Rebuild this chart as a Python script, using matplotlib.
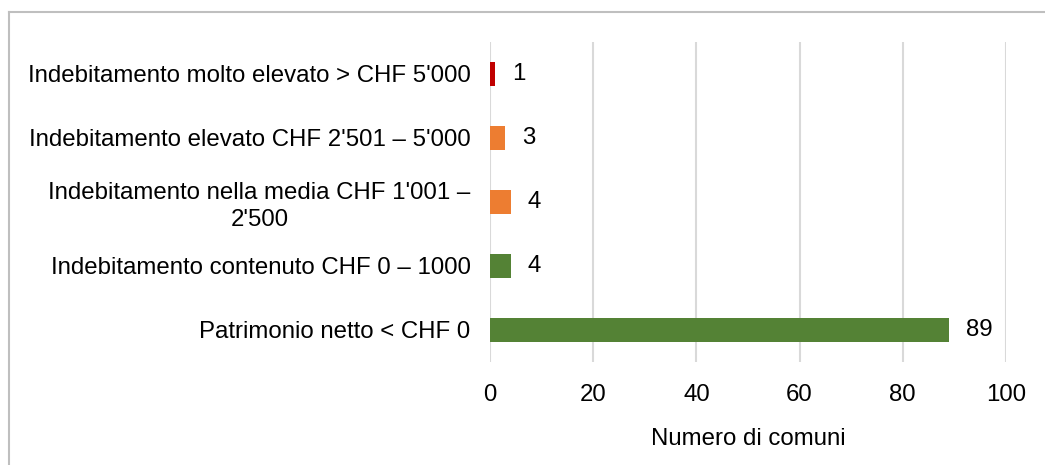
import matplotlib
matplotlib.use('Agg')
import matplotlib.pyplot as plt
from matplotlib.lines import Line2D

categories = [
    "Patrimonio netto < CHF 0",
    "Indebitamento contenuto CHF 0 \u2013 1000",
    "Indebitamento nella media CHF 1'001 \u2013\n2'500",
    "Indebitamento elevato CHF 2'501 \u2013 5'000",
    "Indebitamento molto elevato > CHF 5'000",
]
values = [89, 4, 4, 3, 1]
colors = ['#548235', '#548235', '#ED7D31', '#ED7D31', '#C00000']
xticks = [0, 20, 40, 60, 80, 100]

plt.rcParams['font.family'] = ['Liberation Sans', 'DejaVu Sans']
plt.rcParams['font.size'] = 17.3

fig = plt.figure(figsize=(10.45, 4.65), dpi=100)
ax = fig.add_axes([490 / 1045, 1 - 362 / 465, 516 / 1045, 320 / 465])

y = range(len(categories))
bars = ax.barh(y, values, height=0.36, color=colors, zorder=3)

for bar, val in zip(bars, values):
    ax.annotate(str(val), (bar.get_width(), bar.get_y() + bar.get_height() / 2),
                xytext=(17, 0), textcoords='offset pixels',
                ha='left', va='center', color='#000000')

ax.set_xlim(0, 100)
ax.set_ylim(-0.5, len(categories) - 0.5)
ax.set_xticks(xticks)
ax.set_yticks(list(y))
ax.set_yticklabels(categories, multialignment='center', linespacing=1.25)
ax.tick_params(axis='both', length=0)
ax.tick_params(axis='y', pad=14)
ax.tick_params(axis='x', pad=16)
ax.grid(axis='x', color='#D9D9D9', linewidth=1.5, zorder=0)
for s in ax.spines.values():
    s.set_visible(False)
ax.set_xlabel('Numero di comuni', labelpad=16)

# outer chart border (top and left visible)
fig.add_artist(Line2D([8.5 / 1045, 8.5 / 1045], [0, 1 - 12.5 / 465],
                      transform=fig.transFigure, color='#BFBFBF', linewidth=1.5))
fig.add_artist(Line2D([8.5 / 1045, 1], [1 - 12.5 / 465, 1 - 12.5 / 465],
                      transform=fig.transFigure, color='#BFBFBF', linewidth=1.5))

fig.savefig('out.png', dpi=100)
